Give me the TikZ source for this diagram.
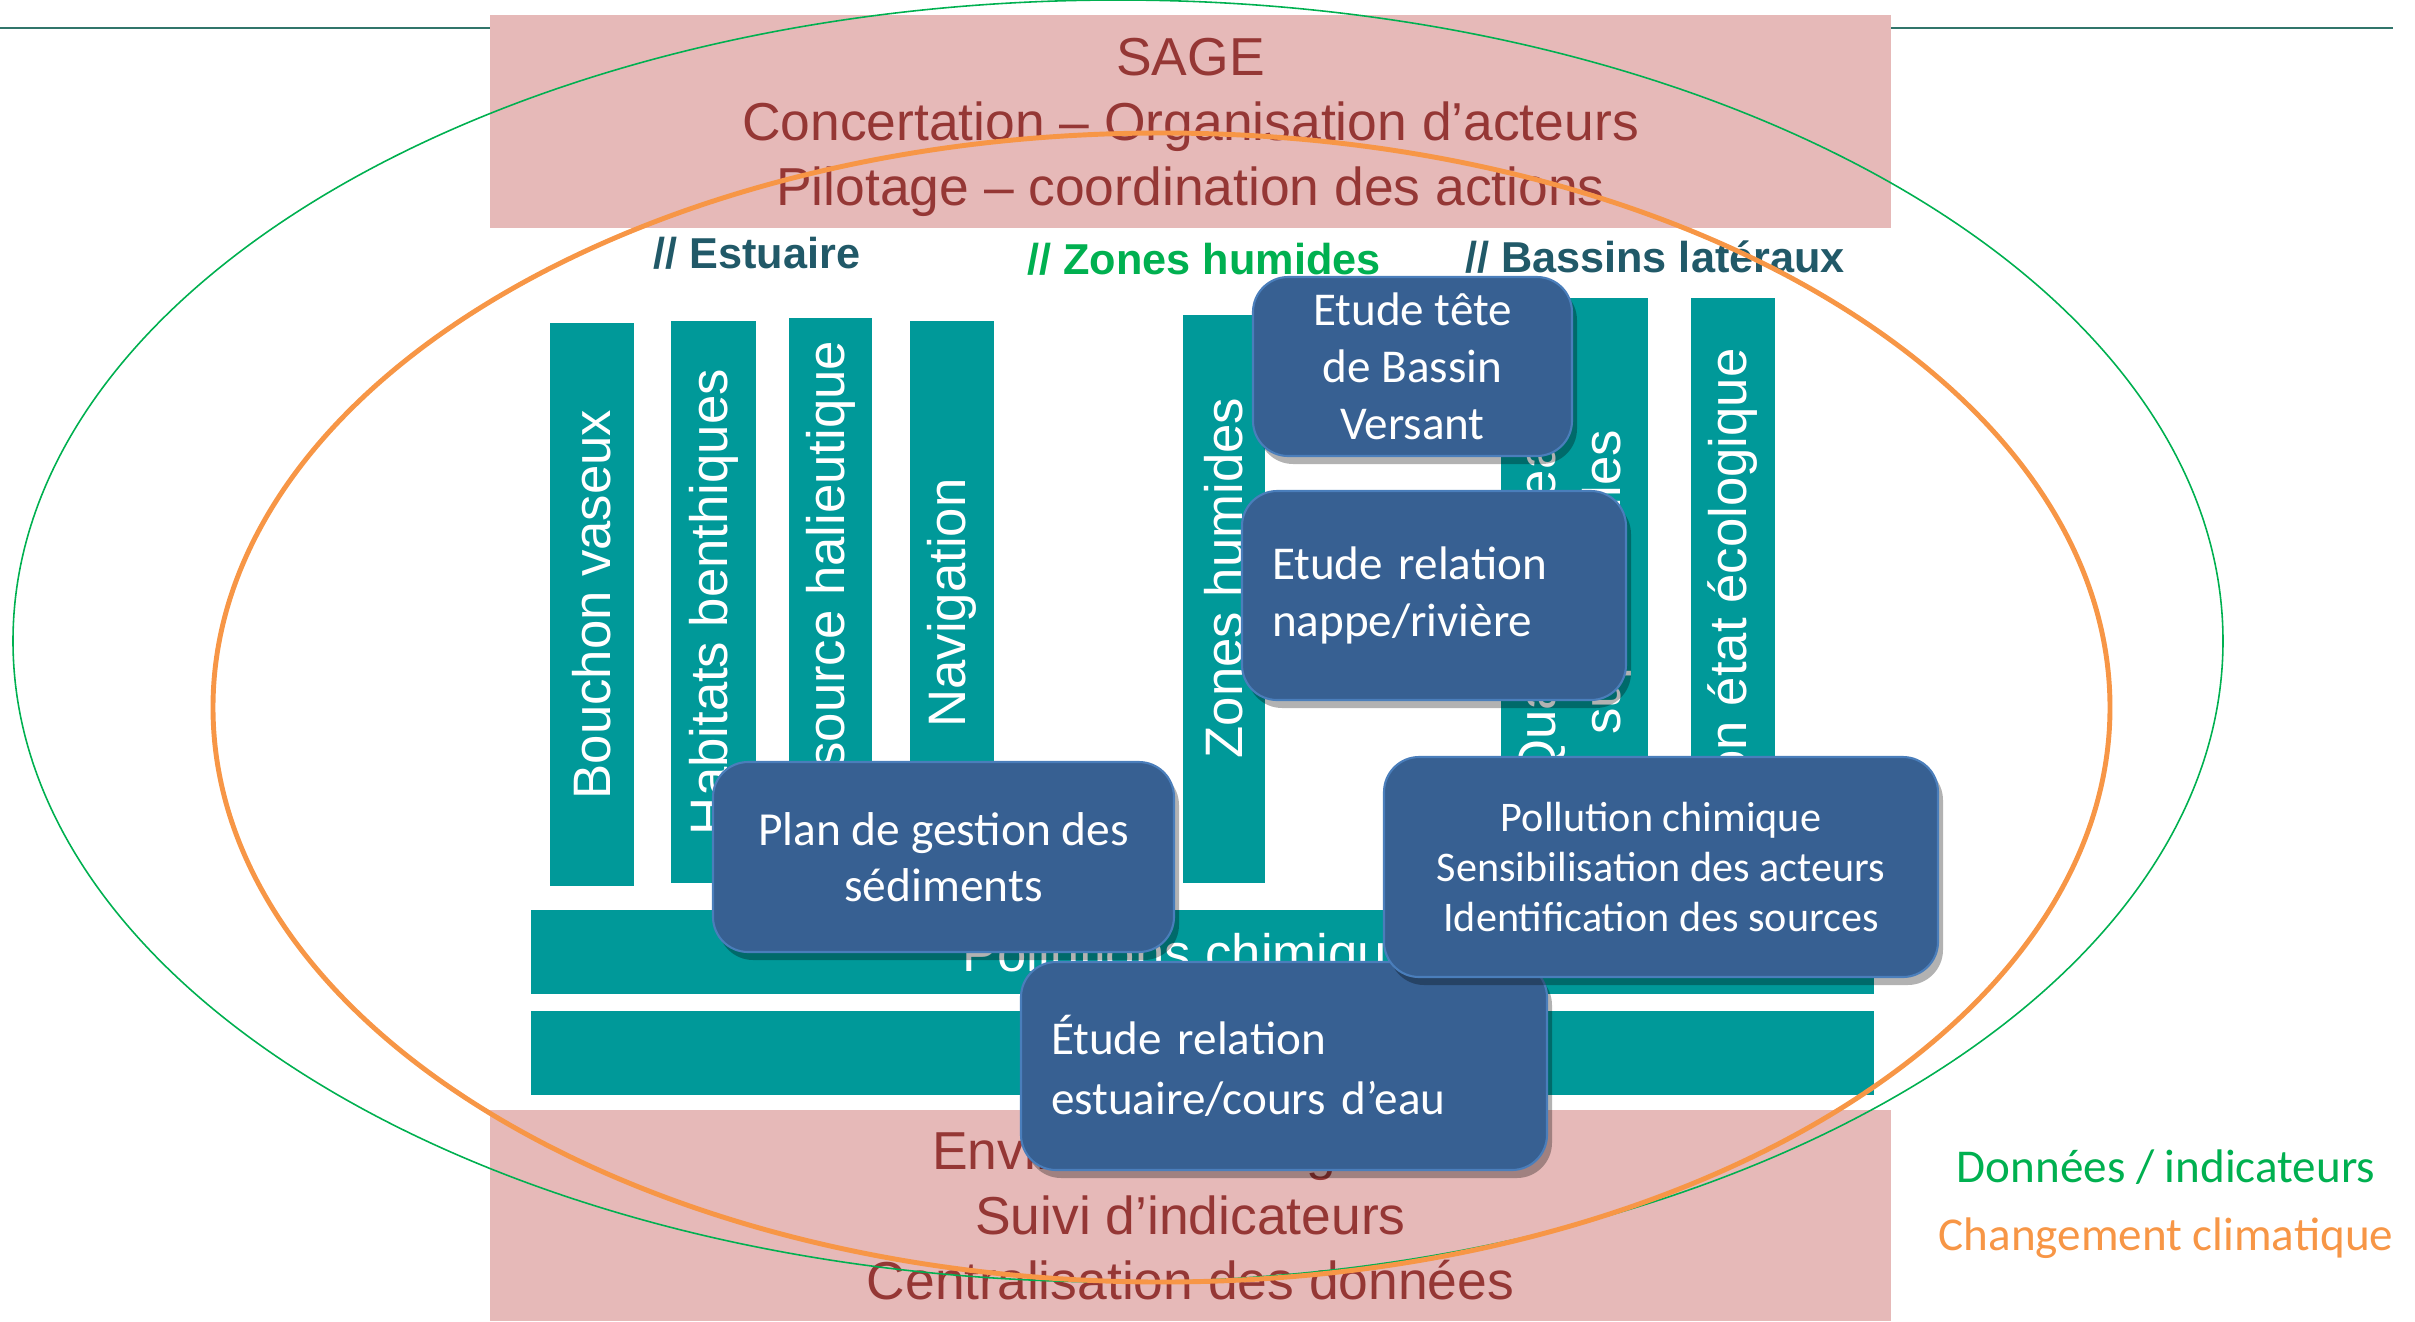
\documentclass[tikz,border=0pt]{standalone}
\usepackage{fontspec}
\setmainfont{Liberation Sans}
\newfontfamily\calibri{Carlito}
\usepackage{tikz}
\usetikzlibrary{shadows}

\definecolor{pinkfill}{HTML}{E6B9B8}
\definecolor{pinktext}{HTML}{953735}
\definecolor{tealbar}{HTML}{009999}
\definecolor{bluebox}{HTML}{376092}
\definecolor{blueedge}{HTML}{4A7EBB}
\definecolor{headteal}{HTML}{215968}
\definecolor{greendata}{HTML}{00B050}
\definecolor{orangeclim}{HTML}{F79646}
\definecolor{topline}{HTML}{31756B}

\tikzset{
  pinkbox/.style={fill=pinkfill, draw=none, text=pinktext, align=center, inner sep=0pt,
    text depth=0pt, font=\fontsize{15.2}{18.5}\selectfont},
  vbar/.style={fill=tealbar, draw=none, text=white, rotate=90, inner sep=0pt, align=center,
    font=\fontsize{15}{18.5}\selectfont},
  hbar/.style={fill=tealbar, draw=none, text=white, inner sep=0pt, text depth=0pt,
    font=\fontsize{15}{18}\selectfont},
  header/.style={font=\bfseries\fontsize{12.3}{14}\selectfont, text=headteal},
  studybox/.style={fill=bluebox, draw=blueedge, line width=0.6pt, rounded corners=10pt,
    text=white, align=center, font=\calibri\fontsize{13.4}{16.2}\selectfont,
    drop shadow={shadow xshift=0.5mm, shadow yshift=-0.8mm, fill=black, opacity=0.3}},
  legendtext/.style={font=\calibri\fontsize{13.4}{16}\selectfont},
}

\begin{document}
\begin{tikzpicture}
        \useasboundingbox (0,0) rectangle (24.15,-13.21);
        % Line
        \draw[topline, line width=0.6pt] (0,-0.28) -- (23.93,-0.28);
        % Pink boxes
        \node[pinkbox, minimum width=14.01cm, minimum height=2.13cm] (sage)
          at (11.905,-1.215) {SAGE\\
            Concertation – Organisation d’acteurs\\
            Pilotage – coordination des actions};
        \node[pinkbox, minimum width=14.01cm, minimum height=2.11cm] (enviro)
          at (11.905,-12.155) {Environnement global\\
            Suivi d’indicateurs\\
            Centralisation des données};
        % Headers
        \node[header] (estuaire) at (7.57,-2.53) {// Estuaire};
        \node[header, text=greendata] (zoneshum) at (12.04,-2.59) {// Zones humides};
        \node[header] (bassins) at (16.55,-2.57) {// Bassins latéraux};
        % Bars
        \node[vbar, minimum width=5.63cm, minimum height=0.84cm] (bouchon)
          at (5.92,-6.045) {Bouchon vaseux};
        \node[vbar, minimum width=5.62cm, minimum height=0.85cm] (habitats)
          at (7.135,-6.02) {Habitats benthiques};
        \node[vbar, minimum width=5.67cm, minimum height=0.83cm] (ressource)
          at (8.305,-6.015) {Ressource halieutique};
        \node[vbar, minimum width=5.64cm, minimum height=0.84cm] (navigation)
          at (9.52,-6.03) {Navigation};
        \node[vbar, minimum width=5.68cm, minimum height=0.82cm] (zoneshumbar)
          at (12.24,-5.99) {\hspace*{0.42cm}Zones humides};
        \node[vbar, minimum width=5.85cm, minimum height=1.47cm] (qualite)
          at (15.745,-5.905) {\hspace*{0.16cm}Qualité des eaux\\\hspace*{0.16cm}superficielles};
        \node[vbar, minimum width=5.85cm, minimum height=0.84cm] (bonetat)
          at (17.33,-5.905) {\hspace*{0.18cm}Bon état écologique};
        \node[hbar, minimum width=13.43cm, minimum height=0.84cm] (pollutions)
          at (12.025,-9.52) {Pollutions chimiques};
        \node[hbar, minimum width=13.43cm, minimum height=0.84cm] (hbarlow)
          at (12.025,-10.53) {};
        % Rings
        \draw[greendata, line width=0.45pt] (11.18,-6.41) ellipse (11.05cm and 6.41cm);
        \draw[orangeclim, line width=1.4pt] (11.615,-7.075) ellipse (9.485cm and 5.745cm);
        % Studies
        \node[studybox, minimum width=3.19cm, minimum height=1.79cm] (tetebv)
          at (14.125,-3.665) {Etude tête\\de Bassin\\Versant};
        \node[studybox, align=left, text width=3.24cm, inner xsep=0.3cm, minimum height=2.09cm] (nappe)
          at (14.34,-5.955) {Etude relation\\nappe/rivière};
        \node[studybox, minimum width=4.61cm, minimum height=1.9cm,
          font=\calibri\fontsize{13.5}{16}\selectfont] (plangestion)
          at (9.435,-8.57) {Plan de gestion des\\sédiments};
        \node[studybox, align=left, text width=4.66cm, inner xsep=0.3cm, minimum height=2.08cm,
          font=\calibri\fontsize{13.4}{17}\selectfont] (estuairecours)
          at (12.84,-10.66) {Étude relation\\estuaire/cours d’eau};
        \node[studybox, minimum width=5.54cm, minimum height=2.2cm,
          font=\calibri\fontsize{12}{14.2}\selectfont] (pollution)
          at (16.61,-8.67) {Pollution chimique\\
            Sensibilisation des acteurs\\
            Identification des sources};
        % Legend
        \node[legendtext, text=greendata] (donnees) at (21.66,-11.67) {Données / indicateurs};
        \node[legendtext, text=orangeclim] (climat) at (21.66,-12.38) {Changement climatique};
      \end{tikzpicture}
\end{document}
